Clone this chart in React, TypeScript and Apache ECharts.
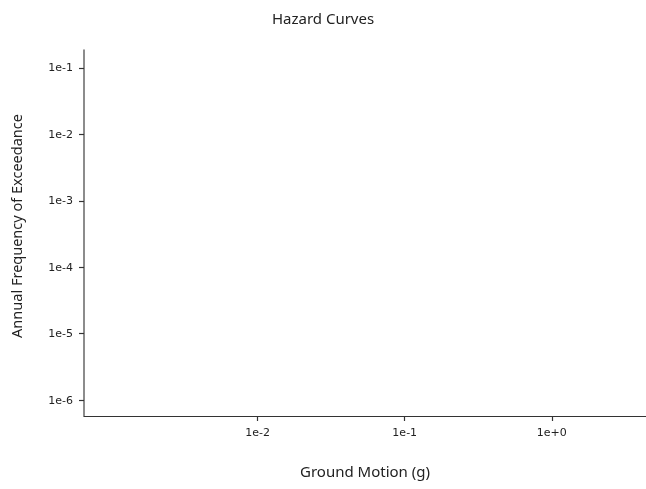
import React, { useEffect, useRef } from "react";
import * as echarts from "echarts";

// Axis ranges, in log10 units
const xRange = [-3.18, 0.64];
const yRange = [-6.24, -0.73];
// Decades that carry a tick label
const xTickExponents = [-2, -1, 0];
const yTickExponents = [-6, -5, -4, -3, -2, -1];
// Hazard curves: [log10 ground motion, log10 annual frequency] pairs per curve (none loaded)
const curveNames: string[] = [];
const curveData: number[][][] = [];

const fmtExp = (v: number) => {
  const e = Math.round(v);
  return e >= 0 ? `1e+${e}` : `1e${e}`;
};

export default function App() {
  const ref = useRef<HTMLDivElement>(null);
  useEffect(() => {
    const chart = echarts.init(ref.current!, null, { renderer: "svg" });
    const font = "'Source Sans Pro', 'Noto Sans', sans-serif";
    chart.setOption({
      animation: false,
      title: {
        text: "Hazard Curves",
        left: "center",
        top: 5,
        textStyle: { fontFamily: font, fontSize: 15, fontWeight: "normal", color: "#222" },
      },
      grid: { left: 84, right: 0, top: 50, bottom: 73, containLabel: false, outerBoundsMode: "none" },
      xAxis: {
        type: "value",
        min: xRange[0],
        max: xRange[1],
        name: "Ground Motion (g)",
        nameLocation: "middle",
        nameGap: 47,
        nameTextStyle: { fontFamily: font, fontSize: 15, color: "#222" },
        axisLine: { show: true, onZero: false, lineStyle: { color: "#333", width: 1 } },
        axisTick: { show: true, length: 5, customValues: xTickExponents, lineStyle: { color: "#333", width: 1.2 } },
        axisLabel: {
          customValues: xTickExponents,
          formatter: fmtExp,
          fontFamily: "'DejaVu Sans', sans-serif",
          fontSize: 11,
          color: "#222",
          margin: 11,
        },
        splitLine: { show: false },
      },
      yAxis: {
        type: "value",
        min: yRange[0],
        max: yRange[1],
        name: "Annual Frequency of Exceedance",
        nameLocation: "middle",
        nameGap: 61,
        nameTextStyle: { fontFamily: font, fontSize: 14.5, color: "#222", padding: [0, 0, 0, 14] },
        axisLine: { show: true, onZero: false, lineStyle: { color: "#666", width: 1.5 } },
        axisTick: { show: true, length: 5, customValues: yTickExponents, lineStyle: { color: "#333", width: 1.2 } },
        axisLabel: {
          customValues: yTickExponents,
          formatter: fmtExp,
          fontFamily: "'DejaVu Sans', sans-serif",
          fontSize: 11,
          color: "#222",
          margin: 11,
        },
        splitLine: { show: false },
      },
      series: curveData.map((d, i) => ({
        type: "line",
        name: curveNames[i],
        data: d,
        showSymbol: false,
      })),
    });
    return () => chart.dispose();
  }, []);
  return (
    <div
      ref={ref}
      style={{ position: "fixed", left: 0, top: 0, width: 646, height: 489 }}
    />
  );
}
